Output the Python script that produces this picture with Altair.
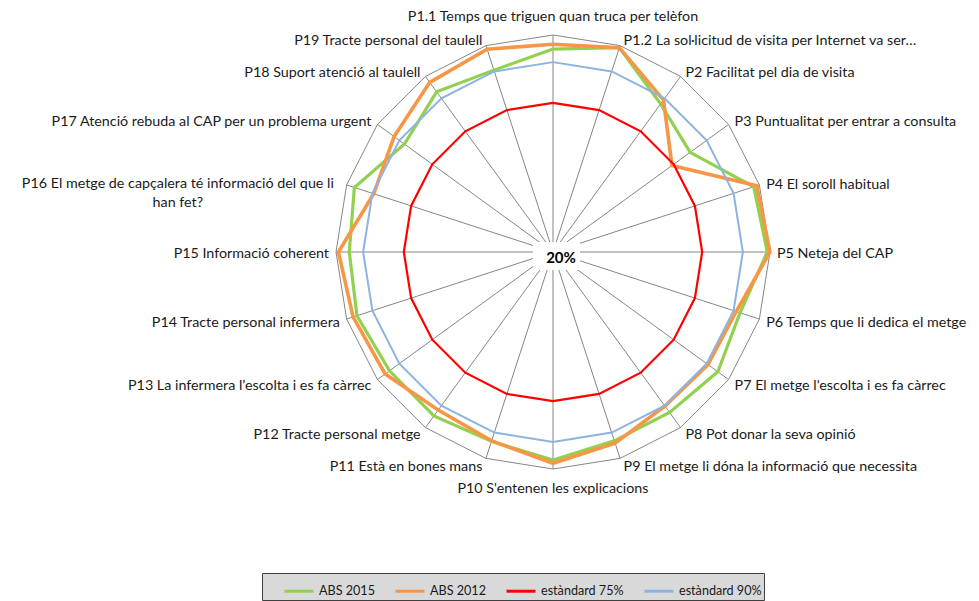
import math
import pandas as pd
import altair as alt

# ---------------- data ----------------
categories = [
    "P1.1 Temps que triguen quan truca per telèfon",
    "P1.2 La sol·licitud de visita per Internet va ser…",
    "P2 Facilitat pel dia de visita",
    "P3 Puntualitat per entrar a consulta",
    "P4 El soroll habitual",
    "P5 Neteja del CAP",
    "P6 Temps que li dedica el metge",
    "P7 El metge l'escolta i es fa càrrec",
    "P8 Pot donar la seva opinió",
    "P9 El metge li dóna la informació que necessita",
    "P10 S'entenen les explicacions",
    "P11 Està en bones mans",
    "P12 Tracte personal metge",
    "P13 La infermera l’escolta i es fa càrrec",
    "P14 Tracte personal infermera",
    "P15 Informació coherent",
    "P16 El metge de capçalera té informació del que li\nhan fet?",
    "P17 Atenció rebuda al CAP per un problema urgent",
    "P18 Suport atenció al taulell",
    "P19 Tracte personal del taulell",
]
abs_2015 = [94.8, 99.2, 87.5, 82.5, 97.8, 99.0, 92.5, 95.1, 93.1, 93.2,
            96.7, 93.4, 94.7, 94.5, 96.0, 95.1, 97.0, 87.7, 93.0, 90.5]
abs_2012 = [96.6, 99.2, 89.3, 74.2, 99.0, 100.0, 91.0, 90.6, 90.2, 94.1,
            97.9, 93.2, 92.0, 96.5, 97.5, 99.1, 89.5, 92.4, 97.3, 98.6]
estandard_75 = [75, 75, 75, 75, 75, 75, 75, 75, 75, 75,
                75, 75, 75, 75, 75, 75, 75, 75, 75, 75]
estandard_90 = [90, 90, 90, 90, 90, 90, 90, 90, 90, 90,
                90, 90, 90, 90, 90, 90, 90, 90, 90, 90]
series_names = ["ABS 2015", "ABS 2012", "estàndard 75%", "estàndard 90%"]
series_colors = ["#92d050", "#f79646", "#ff0000", "#8db3e2"]
axis_min, axis_max = 20, 100
center_label = "20%"

# ---------------- geometry / layout ----------------
W, H = 963, 593
CX, CY = 545, 244           # plot-area pixel position of the centre
RADIUS = 217                # pixel radius of the outer ring
PX = RADIUS / (axis_max - axis_min)
XMIN, XMAX = -CX / PX, (W - CX) / PX
YMIN, YMAX = -(H - CY) / PX, CY / PX
N = len(categories)


def ang(i):
    return math.radians(360.0 * i / N)


series_vals = [abs_2015, abs_2012, estandard_75, estandard_90]
rows = []
for name, vals in zip(series_names, series_vals):
    for k in range(N + 1):
        i = k % N
        r = vals[i] - axis_min
        rows.append(dict(series=name, order=k,
                         x=r * math.sin(ang(i)), y=r * math.cos(ang(i))))
df = pd.DataFrame(rows)

ring = pd.DataFrame([dict(order=k,
                          x=(axis_max - axis_min) * math.sin(ang(k % N)),
                          y=(axis_max - axis_min) * math.cos(ang(k % N)))
                     for k in range(N + 1)])
spokes = pd.DataFrame([dict(x=0.0, y=0.0,
                            x2=(axis_max - axis_min) * math.sin(ang(i)),
                            y2=(axis_max - axis_min) * math.cos(ang(i)))
                       for i in range(N)])

# label anchor positions (pixel offsets from ring vertex)
lab_rows = []
for i, cat in enumerate(categories):
    s, c = math.sin(ang(i)), math.cos(ang(i))
    vx, vy = RADIUS * s, -RADIUS * c
    if abs(s) < 0.01:
        ax, ay, side = 0.0, vy - 19 * c + 1, "center"
    else:
        ax = vx + (1 if s > 0 else -1) * (2 + 5 * abs(s))
        ay = vy - 7 * c + 2
        side = "left" if s > 0 else "right"
    lab_rows.append(dict(label=cat, x=ax / PX, y=-ay / PX, side=side,
                         multi="\n" in cat))
labs = pd.DataFrame(lab_rows)
multi = labs[labs.multi].copy()
multi["x"] = multi["x"] - 162 / PX
multi["y"] = multi["y"] + 8 / PX
labs = labs[~labs.multi]

centre = pd.DataFrame([dict(x=-20 / PX, x2=27 / PX, y=10 / PX, y2=-18 / PX,
                            tx=8 / PX, ty=-5.5 / PX, text=center_label)])

xs = alt.Scale(domain=[XMIN, XMAX], nice=False, zero=False)
ys = alt.Scale(domain=[YMIN, YMAX], nice=False, zero=False)
X = alt.X("x:Q", scale=xs, axis=None)
Y = alt.Y("y:Q", scale=ys, axis=None)

GRID = "#868686"
FONT = "Lato"
TXT = "#1a1a1a"
LAB_SIZE = 14.3

ring_layer = alt.Chart(ring).mark_line(color=GRID, strokeWidth=1).encode(
    x=X, y=Y, order="order:Q")
spoke_layer = alt.Chart(spokes).mark_rule(color=GRID, strokeWidth=1).encode(
    x=X, y=Y, x2="x2:Q", y2="y2:Q")

color = alt.Color(
    "series:N",
    scale=alt.Scale(domain=series_names, range=series_colors),
    legend=alt.Legend(
        title=None, orient="none", legendX=254, legendY=565,
        direction="horizontal", columns=4,
        fillColor="#d9d9d9", strokeColor="#404040", padding=2,
        symbolType="stroke", symbolSize=841, symbolStrokeWidth=3,
        symbolOffset=19, labelOffset=4, columnPadding=0,
        labelFont=FONT, labelFontSize=12.6, labelColor=TXT,
    ),
)
widths = {"ABS 2015": 3.2, "ABS 2012": 3.6, "estàndard 75%": 2.2, "estàndard 90%": 2.0}
series_layers = []
for name in series_names:
    series_layers.append(
        alt.Chart(df).transform_filter(alt.datum.series == name)
        .mark_line(strokeWidth=widths[name], strokeJoin="miter")
        .encode(x=X, y=Y, order="order:Q", color=color)
    )

box = alt.Chart(centre).mark_rect(color="white").encode(
    x=X, y=Y, x2="x2:Q", y2="y2:Q")
ctext = alt.Chart(centre).mark_text(font=FONT, fontSize=15, fontWeight="bold",
                                    color="#000000", baseline="middle").encode(
    x=alt.X("tx:Q", scale=xs, axis=None), y=alt.Y("ty:Q", scale=ys, axis=None),
    text="text:N")

label_layers = []
for side in ["left", "right", "center"]:
    label_layers.append(
        alt.Chart(labs).transform_filter(alt.datum.side == side)
        .mark_text(align=side, baseline="middle", font=FONT, fontSize=LAB_SIZE,
                   color=TXT)
        .encode(x=X, y=Y, text="label:N")
    )
multi_layer = alt.Chart(multi).mark_text(
    align="center", baseline="top", font=FONT, fontSize=LAB_SIZE, color=TXT,
    lineBreak="\n", lineHeight=19).encode(x=X, y=Y, text="label:N")

chart = alt.layer(
    spoke_layer, ring_layer, *series_layers, box, ctext, *label_layers, multi_layer
).properties(
    width=W, height=H, padding=0, autosize=alt.AutoSizeParams(type="none")
).configure_view(strokeWidth=0)

chart.save("out.html", embed_options={"renderer": "svg", "actions": False})
